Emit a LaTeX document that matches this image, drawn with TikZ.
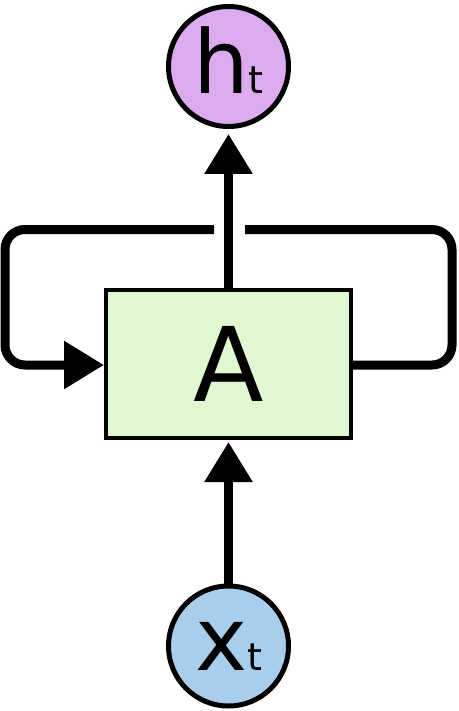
\documentclass[tikz,border=0pt]{standalone}
\usepackage{fontspec}
\setmainfont{DejaVu Sans}
\usetikzlibrary{arrows.meta}
\definecolor{hpurple}{RGB}{220,170,238}
\definecolor{xblue}{RGB}{168,206,236}
\definecolor{agreen}{RGB}{224,248,210}
\begin{document}
\begin{tikzpicture}[x=1pt,y=-1pt,
  state/.style={circle,draw=black,line width=5pt,minimum size=120pt,inner sep=0pt},
  cell/.style={rectangle,draw=black,line width=4pt,fill=agreen,minimum width=245pt,minimum height=148pt,inner sep=0pt},
  conn/.style={line width=9pt,draw=black},
  arr/.style={conn,-{Triangle[length=40pt,width=46pt]}},
  loopline/.style={conn,rounded corners=20pt}]
\useasboundingbox (0,0) rectangle (458,711);
\node[cell] (A) at (228.5,364) {\fontsize{103}{103}\selectfont A};
\node[state,fill=hpurple,text depth=12pt] (h) at (228.5,66.5) {{\fontsize{88}{88}\selectfont h}{\fontsize{38}{38}\selectfont t}};
\node[state,fill=xblue] (x) at (228.5,646) {{\fontsize{88}{88}\selectfont x}{\fontsize{38}{38}\selectfont t}};
\coordinate (gapR) at (245,229.5);
\coordinate (gapL) at (214,229.5);
\draw[arr,shorten >=5pt] (A.north) -- (h.south);
\draw[arr,shorten >=2pt] (x.north) -- (A.south);
\draw[loopline] (A.east |- 0,365) -- (452,365) -- (452,229.5) -- (gapR);
\draw[loopline,-{Triangle[length=40pt,width=46pt]}] (gapL) -- (5,229.5) -- (5,365) -- (A.west |- 0,365);
\end{tikzpicture}
\end{document}
